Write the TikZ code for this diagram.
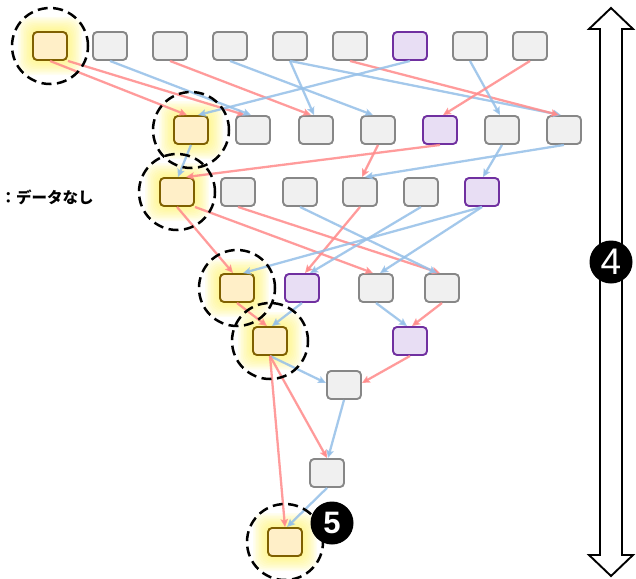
\documentclass[tikz,border=0pt]{standalone}
\usepackage{fontspec}
\setmainfont{Liberation Sans}
\newfontfamily\cjk{Noto Sans CJK JP}
\usetikzlibrary{arrows.meta,calc}
\definecolor{redE}{RGB}{255,140,140}
\definecolor{blueE}{RGB}{150,192,232}
\definecolor{gfill}{RGB}{240,240,240}
\definecolor{gdraw}{RGB}{135,135,135}
\definecolor{pfill}{RGB}{232,222,244}
\definecolor{pdraw}{RGB}{112,48,160}
\definecolor{ofill}{RGB}{255,239,200}
\definecolor{odraw}{RGB}{127,96,0}
\definecolor{glowc}{RGB}{255,240,70}
\begin{document}
\begin{tikzpicture}[x=1pt,y=-1pt,
  box/.style={rounded corners=4pt, minimum width=34pt, minimum height=28pt, inner sep=0pt, line width=1.9pt},
  gbox/.style={box, fill=gfill, draw=gdraw},
  pbox/.style={box, fill=pfill, draw=pdraw},
  obox/.style={box, fill=ofill, draw=odraw},
  edge/.style={line width=2.3pt, draw opacity=0.85, -{Stealth[length=8pt,width=7.5pt,inset=1.5pt]}},
  redl/.style={edge, draw=redE, fill=redE},
  bluel/.style={edge, draw=blueE, fill=blueE},
  dcirc/.style={draw=black, line width=2.5pt, dash pattern=on 10pt off 5.5pt},
  badge/.style={circle, fill=black, minimum size=43pt, inner sep=0pt, text=white}
]
\useasboundingbox (0,0) rectangle (636,578);
% orange positions
\coordinate (co1) at (50,46);
\coordinate (co2) at (191,130);
\coordinate (co3) at (177,192);
\coordinate (co4) at (237,288);
\coordinate (co5) at (270,341);
\coordinate (co8) at (285,542);
% glows
\foreach \c in {co1,co2,co3,co4,co5,co8}{
  \foreach \s in {1,...,10}{
    \fill[glowc, opacity=0.08, rounded corners=10pt]
      ($(\c)+(-17-1.5*\s,-14-1.5*\s)$) rectangle ($(\c)+(17+1.5*\s,14+1.5*\s)$);
  }
}
% row 1
\node[obox] (o1) at (co1) {};
\node[gbox] (a2) at (110,46) {};
\node[gbox] (a3) at (170,46) {};
\node[gbox] (a4) at (230,46) {};
\node[gbox] (a5) at (290,46) {};
\node[gbox] (a6) at (350,46) {};
\node[pbox] (p1) at (410,46) {};
\node[gbox] (a8) at (470,46) {};
\node[gbox] (a9) at (530,46) {};
% row 2
\node[obox] (o2) at (co2) {};
\node[gbox] (b2) at (253,130) {};
\node[gbox] (b3) at (316,130) {};
\node[gbox] (b4) at (378,130) {};
\node[pbox] (p2) at (440,130) {};
\node[gbox] (b6) at (502,130) {};
\node[gbox] (b7) at (564,130) {};
% row 3
\node[obox] (o3) at (co3) {};
\node[gbox] (c2) at (238,192) {};
\node[gbox] (c3) at (300,192) {};
\node[gbox] (c4) at (360,192) {};
\node[gbox] (c5) at (421,192) {};
\node[pbox] (p3) at (482,192) {};
% row 4
\node[obox] (o4) at (co4) {};
\node[pbox] (p4) at (302,288) {};
\node[gbox] (d3) at (376,288) {};
\node[gbox] (d4) at (442,288) {};
% row 5
\node[obox] (o5) at (co5) {};
\node[pbox] (p5) at (410,341) {};
% rows 6-8
\node[gbox] (e1) at (344,385) {};
\node[gbox] (f1) at (327,473) {};
\node[obox] (o8) at (co8) {};
% edges row 1 -> 2
\draw[redl] (o1.south) -- ($(o2.north)+(-4,0)$);
\draw[redl] (o1.south east) -- ($(b2.north)+(-8,0)$);
\draw[bluel] (a2.south) -- ($(b2.north)+(-2,0)$);
\draw[redl] (a3.south) -- ($(b3.north)+(-5,0)$);
\draw[bluel] (a4.south) -- ($(b4.north)+(-5,0)$);
\draw[bluel] (a5.south) -- ($(b3.north)+(-2,0)$);
\draw[bluel] (a5.south) -- ($(b7.north)+(-3,0)$);
\draw[redl] (a6.south) -- ($(b7.north)+(-5,0)$);
\draw[bluel] (p1.south) -- ($(o2.north)+(7,0)$);
\draw[bluel] (a8.south) -- ($(b6.north)+(-2,0)$);
\draw[redl] (a9.south) -- ($(p2.north)+(3,0)$);
% row 2 -> 3
\draw[bluel] (o2.south) -- ($(o3.north)+(1,0)$);
\draw[redl] (p2.south) -- ($(o3.north)+(9,0)$);
\draw[redl] (b4.south) -- ($(c4.north)+(2,0)$);
\draw[bluel] (b7.south) -- ($(c4.north)+(5,0)$);
\draw[bluel] (b6.south) -- ($(p3.north)+(1,0)$);
% row 3 -> 4
\draw[redl] (o3.south) -- ($(o4.north)+(-4,0)$);
\draw[redl] (o3.south east) -- ($(d3.north)+(-3,0)$);
\draw[redl] (c2.south) -- ($(d4.north)+(-2,0)$);
\draw[bluel] (c3.south) -- ($(d4.north)+(-5,0)$);
\draw[redl] (c4.south) -- ($(p4.north)+(3,0)$);
\draw[bluel] (c5.south) -- ($(p4.north)+(8,0)$);
\draw[bluel] (p3.south) -- ($(o4.north)+(6,0)$);
\draw[bluel] (p3.south) -- ($(d3.north)+(4,0)$);
% row 4 -> 5
\draw[redl] (o4.south) -- ($(o5.north)+(-3,0)$);
\draw[bluel] (p4.south) -- ($(o5.north)+(2,0)$);
\draw[bluel] (d3.south) -- ($(p5.north)+(-3,0)$);
\draw[redl] (d4.south) -- ($(p5.north)+(2,0)$);
% rows 5 -> 8
\draw[bluel] (o5.south) -- ($(e1.west)+(0,-2)$);
\draw[redl] (p5.south) -- ($(e1.east)+(0,-2)$);
\draw[redl] (o5.south) -- (f1.north);
\draw[bluel] (e1.south) -- ($(f1.north)+(1,0)$);
\draw[redl] (o5.south) -- (o8.north);
\draw[bluel] (f1.south) -- ($(o8.north)+(2,0)$);
% dashed circles
\foreach \c in {co1,co2,co3,co4,co5,co8}{
  \draw[dcirc] (\c) circle (38pt);
}
% label
\node[anchor=west, font=\cjk\bfseries\fontsize{15.5}{15.5}\selectfont, inner sep=0pt] (nodata) at (0.5,197) {：データなし};
% double arrow
\draw[line width=1.9pt, fill=white, line join=miter]
  (611,8) -- (633,29) -- (622,29) -- (622,555) -- (633,555) -- (611,576)
  -- (589,555) -- (600,555) -- (600,29) -- (589,29) -- cycle;
\node[badge, font=\fontsize{37}{37}\selectfont] (badgeFour) at (611,262) {4};
\node[badge, font=\bfseries\fontsize{31}{31}\selectfont] (badgeFive) at (332,523) {5};
\end{tikzpicture}
\end{document}
